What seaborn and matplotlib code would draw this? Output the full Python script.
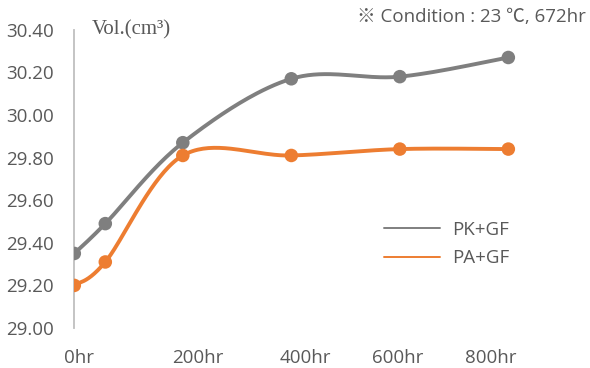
import numpy as np
import pandas as pd
import matplotlib
matplotlib.use('Agg')
import matplotlib.pyplot as plt
from matplotlib.lines import Line2D
import seaborn as sns

# data
hours = [0, 48, 168, 336, 504, 672]
pk_gf = [29.35, 29.49, 29.87, 30.17, 30.18, 30.27]
pa_gf = [29.20, 29.31, 29.81, 29.81, 29.84, 29.84]
series_names = ['PK+GF', 'PA+GF']
series_colors = ['#7f7f7f', '#ed7d31']

x_tick_pos = [7, 191, 357, 501, 645]
x_tick_labels = ['0hr', '200hr', '400hr', '600hr', '800hr']
y_ticks = [29.00, 29.20, 29.40, 29.60, 29.80, 30.00, 30.20, 30.40]

df = pd.DataFrame({'hr': hours * 2,
                   'vol': pk_gf + pa_gf,
                   'series': [series_names[0]] * 6 + [series_names[1]] * 6})

sns.set_style('white')
plt.rcParams['font.family'] = ['Open Sans', 'Noto Sans CJK JP', 'DejaVu Sans']
txt = '#595959'

fig = plt.figure(figsize=(5.9, 3.68), dpi=100)
ax = fig.add_axes([74.3 / 590, 1 - 328 / 368, 516.7 / 590, 298.2 / 368])
ax.set_xlim(0, 800)
ax.set_ylim(29.0, 30.4)


def smooth(xs, ys, n=40):
    # Excel-like smoothing: cubic bezier with control points from neighbours (in pixel space)
    sx, sy = 516.7 / 800, 213.0
    p = np.column_stack([np.array(xs) * sx, (np.array(ys) - 29) * sy])
    out = []
    for i in range(len(p) - 1):
        p0 = p[max(i - 1, 0)]
        p1, p2 = p[i], p[i + 1]
        p3 = p[min(i + 2, len(p) - 1)]
        c1 = p1 + (p2 - p0) / 6
        c2 = p2 - (p3 - p1) / 6
        t = np.linspace(0, 1, n)[:, None]
        seg = (1 - t) ** 3 * p1 + 3 * (1 - t) ** 2 * t * c1 + 3 * (1 - t) * t ** 2 * c2 + t ** 3 * p2
        out.append(seg)
    out = np.vstack(out)
    return out[:, 0] / sx, out[:, 1] / sy + 29


for name, col in zip(series_names, series_colors):
    d = df[df['series'] == name]
    cx, cy = smooth(d['hr'].tolist(), d['vol'].tolist())
    ax.plot(cx, cy, color=col, lw=2.8, solid_capstyle='round', zorder=2)
    sns.scatterplot(data=d, x='hr', y='vol', color=col, s=95, edgecolor='none',
                    ax=ax, zorder=3, legend=False)

ax.set_xticks(x_tick_pos)
ax.set_xticklabels(x_tick_labels)
ax.set_yticks(y_ticks)
ax.set_yticklabels([f'{v:.2f}' for v in y_ticks])
ax.tick_params(axis='both', length=0, labelsize=13.5, colors=txt)
ax.tick_params(axis='y', pad=15)
ax.tick_params(axis='x', pad=15)
ax.set_xlabel('')
ax.set_ylabel('')
for s in ['top', 'right', 'bottom']:
    ax.spines[s].set_visible(False)
ax.spines['left'].set_color('#bfbfbf')
ax.spines['left'].set_linewidth(1.3)

handles = [Line2D([0], [0], color=c, lw=1.4) for c in series_colors]
leg = ax.legend(handles, series_names, loc='upper left',
                bbox_to_anchor=(384 / 590, 1 - 221 / 368), bbox_transform=fig.transFigure,
                frameon=False, fontsize=13.5, handlelength=3.0, handletextpad=0.65,
                labelspacing=0.55, borderaxespad=0, borderpad=0)
for t in leg.get_texts():
    t.set_color(txt)

fig.text(92 / 590, 1 - 30 / 368, 'Vol.(cm³)', family='Liberation Serif', fontsize=15,
         color=txt, va='center', ha='left')
fig.text(586 / 590, 1 - 17 / 368, '※ Condition : 23 ℃, 672hr', fontsize=13.5,
         color=txt, va='center', ha='right')

fig.savefig('out.png', dpi=100)
